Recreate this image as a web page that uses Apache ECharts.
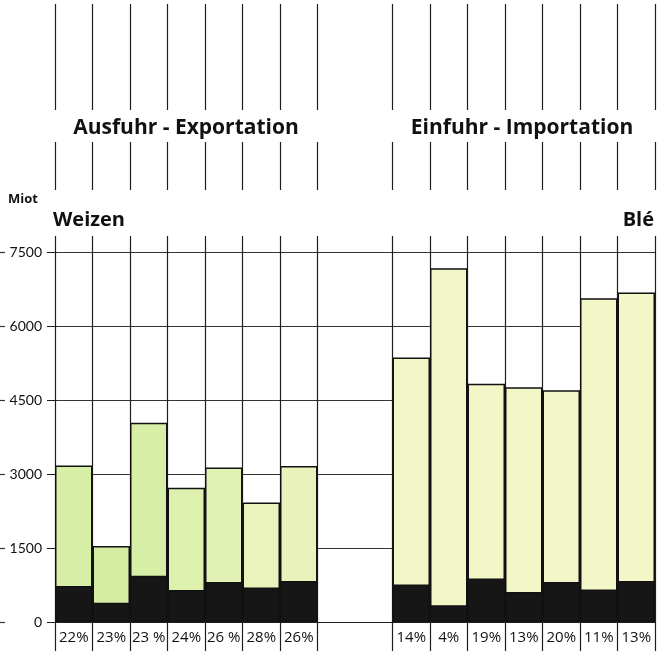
<!DOCTYPE html>
<html>
<head>
<meta charset="utf-8">
<script src="https://cdn.jsdelivr.net/npm/echarts@6/dist/echarts.min.js"></script>
<style>
  html, body { margin: 0; padding: 0; background: #ffffff; }
  #chart { width: 658px; height: 651px; }
</style>
</head>
<body>
<div id="chart"></div>
<script>
// ---- data ----
const exportCats = ['Ex1', 'Ex2', 'Ex3', 'Ex4', 'Ex5', 'Ex6', 'Ex7'];
const gapCats = ['gap1', 'gap2'];
const importCats = ['Im1', 'Im2', 'Im3', 'Im4', 'Im5', 'Im6', 'Im7'];

const exportTotal = [3170, 1540, 4040, 2720, 3130, 2420, 3160];
const exportDark  = [730, 390, 940, 650, 810, 700, 830];
const importTotal = [5360, 7170, 4830, 4760, 4700, 6560, 6680];
const importDark  = [760, 340, 880, 610, 810, 660, 830];

const exportPct = ['22%', '23%', '23 %', '24%', '26 %', '28%', '26%'];
const importPct = ['14%', '4%', '19%', '13%', '20%', '11%', '13%'];

const yMin = 0, yMax = 7500, yStep = 1500;

// ---- styles ----
const exportFill = ['#d6eea5', '#d5eca3', '#d7eea6', '#ddf0ae', '#e2f1b4', '#eaf3bc', '#e8f2ba'];
const importFill = '#f3f6c7';
const darkFill = '#161616';
const lineCol = '#1e1e1e';
const font = '"Open Sans", Lato, "DejaVu Sans", sans-serif';
const labelFont = 'Lato, "Open Sans", sans-serif';

// ---- build ----
const categories = exportCats.concat(gapCats, importCats);
const blanks = gapCats.map(() => null);
const totals = exportTotal.concat(blanks, importTotal);
const darks = exportDark.concat(blanks, importDark);
const pctLabels = exportPct.concat(gapCats.map(() => ''), importPct);
const gapBoundary = exportCats.length + 1; // boundary in the middle of the gap
const boundaryFilter = (idx) => idx !== gapBoundary;

const chart = echarts.init(document.getElementById('chart'), null, { renderer: 'canvas' });

function vLineAxis(gridIndex) {
  return {
    type: 'category', gridIndex: gridIndex, data: categories, boundaryGap: true,
    axisLine: { show: false }, axisTick: { show: false }, axisLabel: { show: false },
    splitLine: { show: true, interval: boundaryFilter, lineStyle: { color: lineCol, width: 1.2 } }
  };
}
function hiddenY(gridIndex) {
  return { type: 'value', gridIndex: gridIndex, show: false, splitLine: { show: false } };
}
function titleText(text, pos, size) {
  return Object.assign({
    text: text, padding: 0,
    textStyle: { fontFamily: font, fontSize: size, fontWeight: 'bold', color: '#111' }
  }, pos);
}

const option = {
  backgroundColor: '#ffffff',
  animation: false,
  textStyle: { fontFamily: font },
  grid: [
    { left: 55, right: 3, top: 252, height: 370 },   // main plot
    { left: 55, right: 3, top: 4, height: 106 },     // top line segment
    { left: 55, right: 3, top: 142, height: 48 },    // middle line segment
    { left: 55, right: 3, top: 236, height: 16 }     // above 7500
  ],
  title: [
    titleText('Ausfuhr - Exportation', { left: 186, top: 118, textAlign: 'center' }, 21),
    titleText('Einfuhr - Importation', { left: 522, top: 118, textAlign: 'center' }, 21),
    titleText('Miot', { left: 8, top: 193 }, 13),
    titleText('Weizen', { left: 53, top: 210 }, 20),
    titleText('Blé', { right: 4, top: 210 }, 20)
  ],
  xAxis: [
    {
      type: 'category', gridIndex: 0, data: categories, boundaryGap: true,
      axisLine: { show: true, lineStyle: { color: lineCol, width: 1.2 } },
      axisTick: { show: true, length: 30, interval: boundaryFilter, lineStyle: { color: lineCol, width: 1.2 } },
      axisLabel: {
        interval: 0, margin: 8, color: '#111', fontSize: 15, fontFamily: font,
        formatter: (v, i) => pctLabels[i]
      },
      splitLine: { show: true, interval: boundaryFilter, lineStyle: { color: lineCol, width: 1.2 } }
    },
    vLineAxis(1), vLineAxis(2), vLineAxis(3)
  ],
  yAxis: [
    {
      type: 'value', gridIndex: 0, min: yMin, max: yMax, interval: yStep,
      axisLine: { show: false },
      axisTick: { show: true, length: 8, lineStyle: { color: lineCol, width: 1 } },
      axisLabel: { margin: 13, color: '#111', fontSize: 14, fontFamily: labelFont,
        formatter: (v) => String(v) },
      splitLine: { show: true, lineStyle: { color: '#333', width: 1 } }
    },
    hiddenY(1), hiddenY(2), hiddenY(3),
    {
      // the short dashes at the far left of each value label
      type: 'value', gridIndex: 0, min: yMin, max: yMax, interval: yStep,
      position: 'left', offset: 50,
      axisLine: { show: false },
      axisTick: { show: true, length: 5, lineStyle: { color: '#333', width: 1.2 } },
      axisLabel: { show: false },
      splitLine: { show: false }
    }
  ],
  series: [
    {
      name: 'Total', type: 'bar', xAxisIndex: 0, yAxisIndex: 0,
      data: totals, barCategoryGap: '0%', barGap: '-100%',
      itemStyle: {
        color: (p) => p.dataIndex < exportCats.length ? exportFill[p.dataIndex] : importFill,
        borderColor: '#111', borderWidth: 1.5
      },
      z: 2
    },
    {
      name: 'Anteil', type: 'bar', xAxisIndex: 0, yAxisIndex: 0,
      data: darks, barCategoryGap: '0%', barGap: '-100%',
      itemStyle: { color: darkFill, borderColor: '#111', borderWidth: 1.5 },
      z: 3
    }
  ]
};
chart.setOption(option);
</script>
</body>
</html>
